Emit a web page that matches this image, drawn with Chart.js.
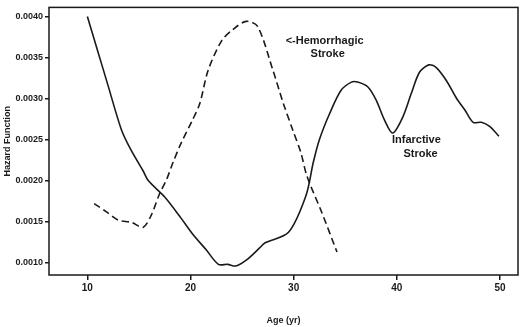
<!DOCTYPE html>
<html>
<head>
<meta charset="utf-8">
<script src="https://cdn.jsdelivr.net/npm/chart.js@4.4.0/dist/chart.umd.min.js"></script>
<style>
  html, body { margin: 0; padding: 0; background: #fff; }
  #wrap { width: 520px; height: 327px; }
</style>
</head>
<body>
<div id="wrap"><canvas id="hazardChart" width="520" height="327"></canvas></div>
<script>
// Infarctive stroke (solid line)
const infarctAge = [10.0, 11.0, 12.0, 13.3, 14.2, 15.4, 15.9, 17.5, 19.1, 20.2, 21.5, 22.7, 23.6, 24.4, 25.4, 26.7, 27.2, 29.5, 31.2, 31.9, 32.5, 33.5, 34.6, 35.6, 36.2, 37.2, 38.0, 38.8, 39.6, 40.6, 41.4, 42.2, 43.1, 43.8, 44.8, 45.8, 46.6, 47.4, 48.2, 49.0, 49.9];
const infarctHazard = [0.00400, 0.00358, 0.00316, 0.00262, 0.00238, 0.00212, 0.00200, 0.00180, 0.00154, 0.00135, 0.00116, 0.00098, 0.00098, 0.00096, 0.00103, 0.00118, 0.00124, 0.00137, 0.00182, 0.00222, 0.00250, 0.00282, 0.00310, 0.00320, 0.00320, 0.00314, 0.00298, 0.00274, 0.00258, 0.00278, 0.00306, 0.00332, 0.00341, 0.00338, 0.00322, 0.00300, 0.00286, 0.00271, 0.00271, 0.00266, 0.00254];

// Hemorrhagic stroke (dashed line)
const hemorAge = [10.65, 11.85, 12.97, 14.3, 15.4, 16.2, 17.0, 17.7, 18.3, 19.1, 20.2, 20.9, 21.7, 23.0, 24.1, 25.4, 26.5, 28.0, 29.0, 29.9, 30.7, 31.3, 32.7, 34.2];
const hemorHazard = [0.00172, 0.00162, 0.00152, 0.00149, 0.00143, 0.00158, 0.00184, 0.00202, 0.00222, 0.00246, 0.00274, 0.00294, 0.00334, 0.00370, 0.00384, 0.00394, 0.00388, 0.00334, 0.00294, 0.00262, 0.00234, 0.00205, 0.00162, 0.00113];

// Axis ticks
const xTicks = [10, 20, 30, 40, 50];
const yTicks = [0.0010, 0.0015, 0.0020, 0.0025, 0.0030, 0.0035, 0.0040];

// Curve labels (text, age, hazard)
const notes = [
  ['<-Hemorrhagic', 33.0, 0.00370],
  ['Stroke', 33.3, 0.00354],
  ['Infarctive', 41.9, 0.00250],
  ['Stroke', 42.3, 0.00233]
];

const ink = '#1a1a1a';
const fontFam = "'Liberation Sans', Arial, Helvetica, sans-serif";

function toPoints(xs, ys) {
  return xs.map((x, i) => ({ x: x, y: ys[i] }));
}

// frame box + curve labels
const framePlugin = {
  id: 'frame',
  afterDraw(chart) {
    const ctx = chart.ctx;
    const a = chart.chartArea;
    ctx.save();
    ctx.strokeStyle = ink;
    ctx.lineWidth = 1.5;
    ctx.strokeRect(a.left, a.top, a.right - a.left, a.bottom - a.top);

    ctx.fillStyle = ink;
    ctx.font = 'bold 11px ' + fontFam;
    ctx.textAlign = 'center';
    ctx.textBaseline = 'middle';
    const xs = chart.scales.x, ys = chart.scales.y;
    notes.forEach(n => {
      ctx.fillText(n[0], xs.getPixelForValue(n[1]), ys.getPixelForValue(n[2]));
    });
    ctx.restore();
  }
};

const ctx = document.getElementById('hazardChart').getContext('2d');
const chart = new Chart(ctx, {
  type: 'line',
  data: {
    datasets: [{
      label: 'Infarctive Stroke',
      data: toPoints(infarctAge, infarctHazard),
      borderColor: ink,
      borderWidth: 1.6,
      pointRadius: 0,
      tension: 0.3,
      fill: false
    }, {
      label: 'Hemorrhagic Stroke',
      data: toPoints(hemorAge, hemorHazard),
      borderColor: ink,
      borderWidth: 1.6,
      borderDash: [7, 4],
      pointRadius: 0,
      tension: 0.3,
      fill: false
    }]
  },
  options: {
    responsive: false,
    animation: false,
    devicePixelRatio: 1,
    layout: { padding: { top: 2, right: 2, left: 0, bottom: 0 } },
    plugins: {
      legend: { display: false },
      tooltip: { enabled: false }
    },
    scales: {
      x: {
        type: 'linear',
        min: 6.28,
        max: 51.75,
        afterBuildTicks: s => { s.ticks = xTicks.map(v => ({ value: v })); },
        afterFit: s => { s.height = 52; },
        border: { display: false },
        grid: { drawOnChartArea: false, drawTicks: true, tickLength: 5, color: ink, lineWidth: 1.5 },
        ticks: {
          color: ink,
          padding: 2,
          maxRotation: 0,
          font: { family: fontFam, size: 10, weight: 'bold' }
        },
        title: {
          display: true,
          text: 'Age (yr)',
          color: ink,
          padding: { top: 0, bottom: 1 },
          font: { family: fontFam, size: 9, weight: 'bold' }
        }
      },
      y: {
        type: 'linear',
        min: 0.00085,
        max: 0.00411,
        afterBuildTicks: s => { s.ticks = yTicks.map(v => ({ value: v })); },
        afterFit: s => { s.width = 49; },
        border: { display: false },
        grid: { drawOnChartArea: false, drawTicks: true, tickLength: 4, color: ink, lineWidth: 1.5 },
        ticks: {
          color: ink,
          padding: 2,
          font: { family: fontFam, size: 9, weight: 'bold' },
          callback: v => Number(v).toFixed(4)
        },
        title: {
          display: true,
          text: 'Hazard Function',
          color: ink,
          padding: { top: 2, bottom: 0 },
          font: { family: fontFam, size: 9, weight: 'bold' }
        }
      }
    }
  },
  plugins: [framePlugin]
});
</script>
</body>
</html>
